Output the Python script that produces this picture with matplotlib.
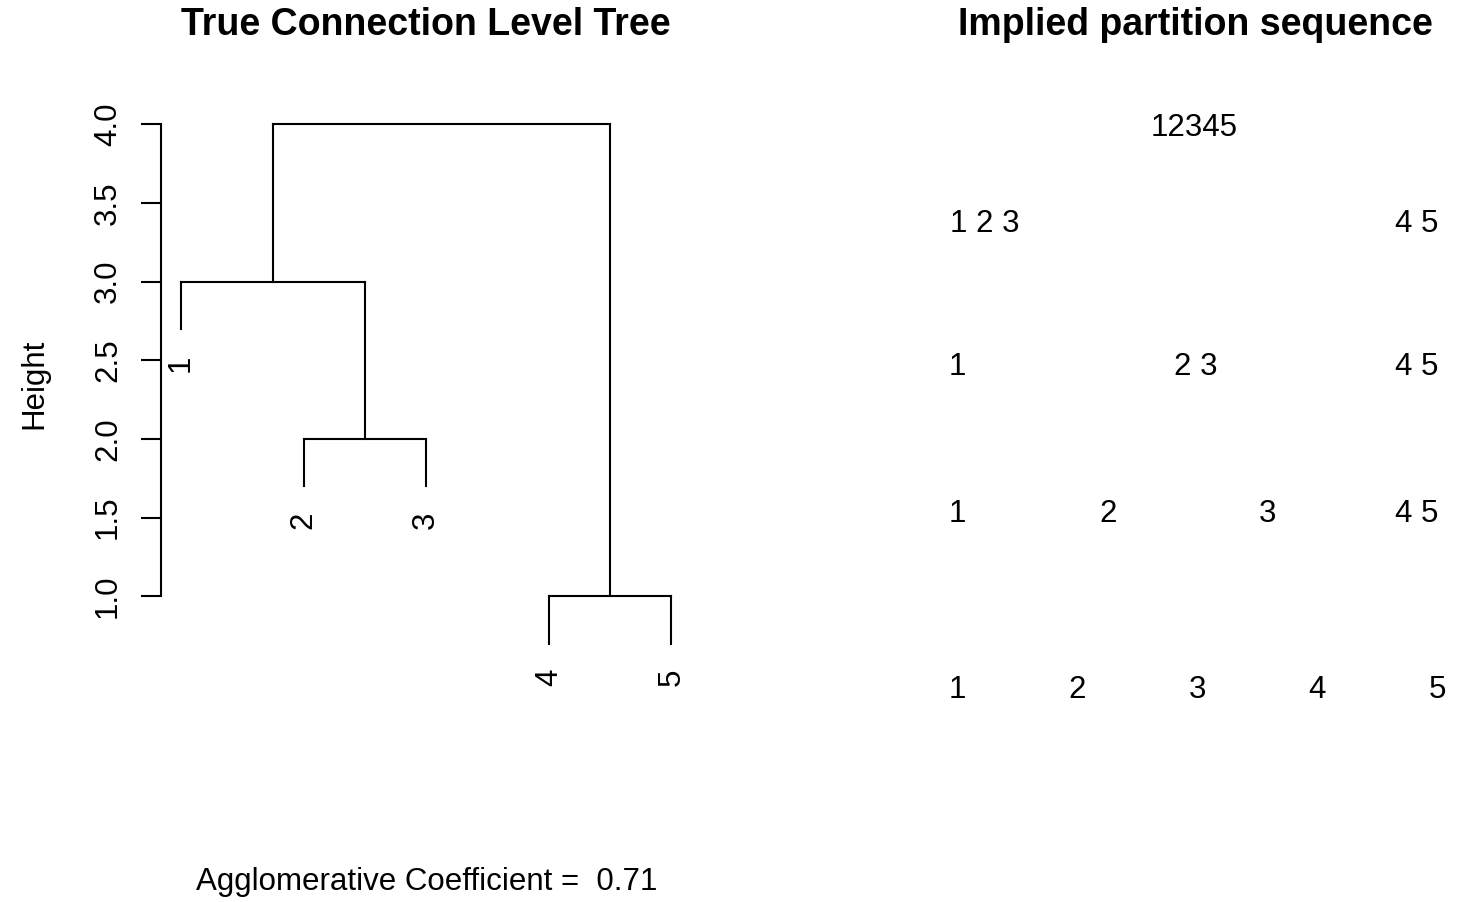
import matplotlib
matplotlib.use("Agg")
import matplotlib.pyplot as plt

plt.rcParams['font.family'] = ['Liberation Sans', 'DejaVu Sans']

# dendrogram (hclust-style merge table: negative = leaf, positive = earlier merge)
merge = [(-4, -5), (-2, -3), (-1, 2), (3, 1)]
merge_height = [1.0, 2.0, 3.0, 4.0]
leaf_order = [1, 2, 3, 4, 5]
leaf_labels = ['1', '2', '3', '4', '5']
y_ticks = [1.0, 1.5, 2.0, 2.5, 3.0, 3.5, 4.0]
agglo_coef = 0.71

# implied partition sequence, one row per level
row_level = [4.0, 3.386, 2.476, 1.546, 0.425]
row_text = [['12345'],
            ['1 2 3', '4 5'],
            ['1', '2 3', '4 5'],
            ['1', '2', '3', '4 5'],
            ['1', '2', '3', '4', '5']]
row_x = [[2.975],
         [1.23, 4.83],
         [1.0, 2.99, 4.83],
         [1.0, 2.26, 3.59, 4.83],
         [1.0, 2.0, 3.0, 4.0, 5.0]]

FS = 22.5
LW = 1.5
W, H = 1464, 902

fig = plt.figure(figsize=(W / 100, H / 100), dpi=100)


def px_axes(l, t, r, b):
    return fig.add_axes([l / W, 1 - b / H, (r - l) / W, (b - t) / H])


hang = 0.1 * (max(merge_height) - min(merge_height))
lo = min(merge_height) - hang
hi = max(merge_height)
ext = 0.04 * (hi - lo)
n = len(leaf_order)

# ---- left: dendrogram
ax = px_axes(161.4, 103.6, 691.0, 664.3)
ax.set_xlim(1 - 0.04 * (n - 1), n + 0.04 * (n - 1))
ax.set_ylim(lo - ext, hi + ext)

xpos = {leaf: i + 1 for i, leaf in enumerate(leaf_order)}
node = {}
for k, (a, b) in enumerate(merge):
    h = merge_height[k]
    xs = []
    for c in (a, b):
        if c < 0:
            x = xpos[-c]
            bottom = h - hang
            ax.annotate(leaf_labels[-c - 1], (x, bottom), xytext=(0, -18.4),
                        textcoords='offset points', rotation=90,
                        ha='center', va='top', fontsize=FS)
        else:
            x, bottom = node[c]
        ax.plot([x, x], [bottom, h], color='black', lw=LW)
        xs.append(x)
    ax.plot(xs, [h, h], color='black', lw=LW)
    node[k + 1] = (sum(xs) / 2, h)

for s in ['top', 'right', 'bottom']:
    ax.spines[s].set_visible(False)
ax.spines['left'].set_bounds(y_ticks[0], y_ticks[-1])
ax.spines['left'].set_linewidth(LW)
ax.set_xticks([])
ax.set_yticks(y_ticks)
ax.set_yticklabels([f'{v:.1f}' for v in y_ticks])
ax.tick_params(axis='y', length=14.4, width=LW, pad=13.2,
               labelsize=FS, labelrotation=90)
for lab in ax.get_yticklabels():
    lab.set_va('center')

pos = ax.get_position()
cx = (pos.x0 + pos.x1) / 2
fig.text(cx, 1 - 35 / H, 'True Connection Level Tree', ha='center',
         va='baseline', fontsize=27, fontweight='bold')
fig.text(33.9 / W, 1 - 384 / H, 'Height', rotation=90, ha='center',
         va='center', fontsize=FS)
fig.text(cx, 1 - 890 / H, f'Agglomerative Coefficient =  {agglo_coef:.2f}',
         ha='center', va='baseline', fontsize=FS)

# ---- right: partition sequence
ax2 = px_axes(937.8, 103.6, 1456.2, 664.3)
ax2.set_xlim(1 - 0.04 * (n - 1), n + 0.04 * (n - 1))
ax2.set_ylim(lo - ext, hi + ext)
ax2.axis('off')
for lev, texts, xs in zip(row_level, row_text, row_x):
    for t, x in zip(texts, xs):
        ax2.annotate(t, (x, lev), xytext=(0, -8.06), textcoords='offset points',
                     ha='center', va='baseline', fontsize=FS,
                     annotation_clip=False)

fig.text(1195 / W, 1 - 35 / H, 'Implied partition sequence', ha='center',
         va='baseline', fontsize=27, fontweight='bold')

fig.savefig('out.png', dpi=100)
